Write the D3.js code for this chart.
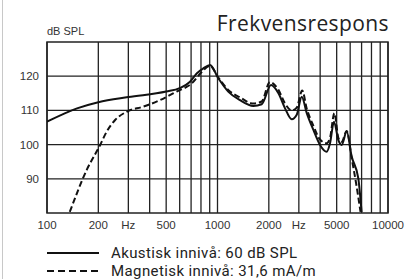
<!DOCTYPE html>
<html>
<head>
<meta charset="utf-8">
<script src="https://cdn.jsdelivr.net/npm/d3@7"></script>
<style>
  body { margin: 0; background: #fff; }
  svg { display: block; }
</style>
</head>
<body>
<div id="chart"></div>
<script>
// values (Hz, dB SPL)
var acousticFreq = [100, 150, 200, 300, 500, 600, 690, 755, 826, 904, 1011, 1156, 1355, 1622, 1816, 2060, 2277, 2490, 2725, 2915, 3120, 3338, 3651, 3993, 4370, 4571, 4823, 5114, 5350, 5725, 6125, 6697, 7000];
var acousticDb   = [106.7, 110.6, 112.4, 113.9, 115.5, 116.5, 118.4, 120.8, 122.3, 123.3, 119.4, 115.5, 113.0, 111.3, 111.8, 117.4, 115.0, 110.6, 107.4, 108.7, 114.0, 109.2, 104.3, 99.9, 97.9, 100.4, 106.7, 101.3, 99.9, 103.8, 96.5, 90.1, 80.3];

var magneticFreq = [136, 171, 205, 224, 251, 293, 367, 460, 576, 706, 800, 904, 1011, 1156, 1355, 1622, 1816, 2030, 2277, 2490, 2725, 2915, 3140, 3338, 3651, 3993, 4370, 4571, 4850, 5114, 5350, 5725, 6125, 6500, 6900];
var magneticDb   = [80.3, 92.6, 99.9, 103.8, 107.2, 109.6, 111.1, 113.0, 115.5, 117.9, 121.0, 123.0, 119.6, 116.0, 113.8, 112.0, 112.6, 118.3, 116.0, 112.0, 110.0, 110.8, 115.8, 110.5, 105.5, 101.5, 100.4, 102.0, 109.2, 102.0, 100.8, 104.0, 96.0, 88.7, 80.3];

var gridFreqs = [100, 200, 300, 400, 500, 600, 700, 800, 900, 1000, 2000, 3000, 4000, 5000, 6000, 7000, 8000, 9000, 10000];
var xTickFreqs  = [100, 200, 300, 500, 1000, 2000, 3000, 5000, 10000];
var xTickLabels = ["100", "200", "Hz", "500", "1000", "2000", "Hz", "5000", "10000"];
var yTicks = [90, 100, 110, 120];

var legendLabels = ["Akustisk innivå: 60 dB SPL", "Magnetisk innivå: 31,6 mA/m"];

var W = 405, H = 279;
var margin = {top: 42, right: 17, bottom: 66, left: 47};
var width = W - margin.left - margin.right,
    height = H - margin.top - margin.bottom;

var x = d3.scaleLog().domain([100, 10000]).range([0, width]);
var y = d3.scaleLinear().domain([80, 130]).range([height, 0]);

var svg = d3.select("#chart").append("svg")
    .attr("width", W)
    .attr("height", H);

// faint page border on the left
svg.append("line")
    .attr("x1", 2.5).attr("x2", 2.5)
    .attr("y1", 0).attr("y2", H)
    .attr("stroke", "#c8c8c8").attr("stroke-width", 1);

svg.append("text")
    .attr("x", 389).attr("y", 31)
    .attr("text-anchor", "end")
    .attr("font-family", "Open Sans")
    .attr("font-size", 21)
    .attr("letter-spacing", 0.4)
    .attr("fill", "#222")
    .text("Frekvensrespons");

svg.append("text")
    .attr("x", 47).attr("y", 35)
    .attr("font-family", "Liberation Sans")
    .attr("font-size", 11)
    .attr("fill", "#333")
    .text("dB SPL");

var g = svg.append("g")
    .attr("transform", "translate(" + margin.left + "," + margin.top + ")");

g.append("clipPath").attr("id", "plot")
  .append("rect").attr("width", width).attr("height", height);

// grid
g.selectAll(".vgrid").data(gridFreqs)
  .enter().append("line")
    .attr("x1", d => x(d)).attr("x2", d => x(d))
    .attr("y1", 0).attr("y2", height)
    .attr("stroke", "#222").attr("stroke-width", 1.3);

g.selectAll(".hgrid").data(yTicks)
  .enter().append("line")
    .attr("x1", 0).attr("x2", width)
    .attr("y1", d => y(d)).attr("y2", d => y(d))
    .attr("stroke", "#222").attr("stroke-width", 1.3);

g.append("rect")
    .attr("width", width).attr("height", height)
    .attr("fill", "none").attr("stroke", "#222").attr("stroke-width", 1.5);

// tick labels
g.selectAll(".ylab").data(yTicks)
  .enter().append("text")
    .attr("x", -8).attr("y", d => y(d) + 4)
    .attr("text-anchor", "end")
    .attr("font-family", "Liberation Sans")
    .attr("font-size", 11.5)
    .attr("fill", "#333")
    .text(d => d);

g.selectAll(".xlab").data(xTickFreqs)
  .enter().append("text")
    .attr("x", (d, i) => x(d))
    .attr("y", height + 16)
    .attr("text-anchor", "middle")
    .attr("font-family", "Liberation Sans")
    .attr("font-size", 11.5)
    .attr("fill", "#333")
    .text((d, i) => xTickLabels[i]);

// curves
var line = d3.line()
    .x(d => x(d[0]))
    .y(d => y(d[1]))
    .curve(d3.curveMonotoneX);

var acoustic = d3.zip(acousticFreq, acousticDb);
var magnetic = d3.zip(magneticFreq, magneticDb);

var curves = g.append("g").attr("clip-path", "url(#plot)");

curves.append("path")
    .datum(magnetic)
    .attr("d", line)
    .attr("fill", "none")
    .attr("stroke", "#111")
    .attr("stroke-width", 2)
    .attr("stroke-dasharray", "6,3");

curves.append("path")
    .datum(acoustic)
    .attr("d", line)
    .attr("fill", "none")
    .attr("stroke", "#111")
    .attr("stroke-width", 2);

// legend
var legend = svg.selectAll(".legend").data(legendLabels)
  .enter().append("g")
    .attr("transform", (d, i) => "translate(47," + (253 + i * 18) + ")");

legend.append("line")
    .attr("x1", 0).attr("x2", 52)
    .attr("stroke", "#111").attr("stroke-width", 2)
    .attr("stroke-dasharray", (d, i) => i ? "7,4" : null);

legend.append("text")
    .attr("x", 64).attr("y", 5)
    .attr("font-family", "Roboto")
    .attr("font-size", 15)
    .attr("letter-spacing", 0.4)
    .attr("fill", "#222")
    .text(d => d);
</script>
</body>
</html>
